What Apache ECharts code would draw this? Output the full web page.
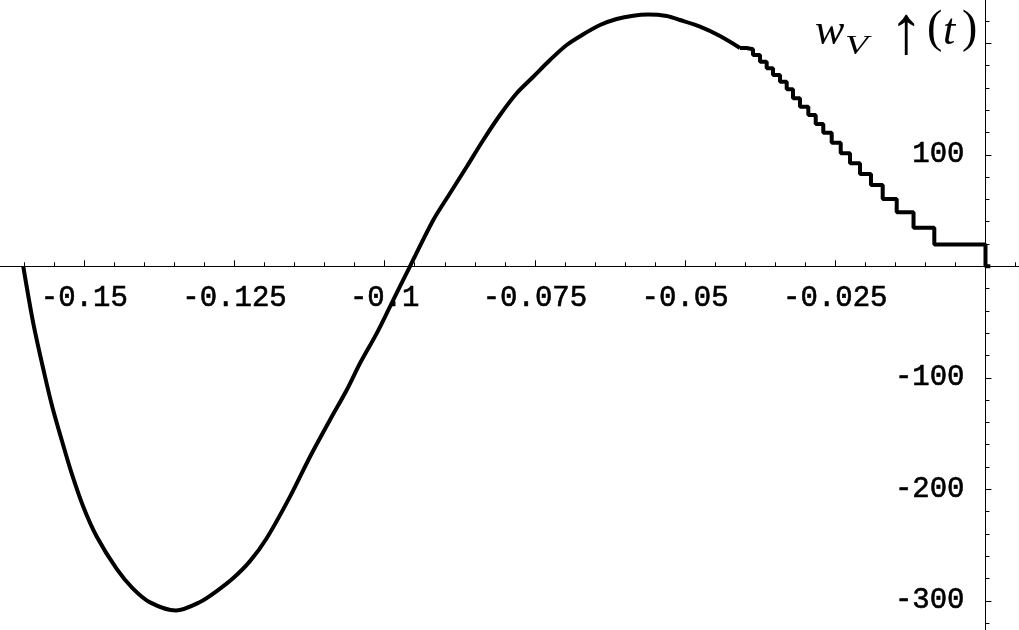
<!DOCTYPE html>
<html>
<head>
<meta charset="utf-8">
<style>
html,body{margin:0;padding:0;background:#fff;}
#chart{width:1019px;height:630px;}
</style>
<script src="https://cdn.jsdelivr.net/npm/echarts@6/dist/echarts.min.js"></script>
</head>
<body>
<div id="chart"></div>
<script>
// smooth part of the curve: [t, w]
var smoothT = [-0.16016,-0.15849,-0.15666,-0.15533,-0.15376,-0.15210,-0.15017,-0.14794,-0.14461,-0.14198,-0.13906,-0.13474,-0.13074,-0.12796,-0.12520,-0.12242,-0.11964,-0.11576,-0.11243,-0.10911,-0.10632,-0.10411,-0.10133,-0.09912,-0.09579,-0.09191,-0.08913,-0.08635,-0.08359,-0.08081,-0.07803,-0.07527,-0.07249,-0.06971,-0.06694,-0.06416,-0.06139,-0.05862,-0.05618,-0.05306,-0.05085,-0.04752,-0.04419,-0.04086];
var smoothW = [0,-51.1,-96.0,-125.9,-155.8,-185.7,-215.6,-242.3,-271.4,-288.6,-301.4,-308.7,-301.1,-291.3,-279.6,-264.4,-243.9,-206.6,-170.8,-137.8,-110.9,-87.0,-60.1,-36.2,0,41.5,65.5,89.3,113.3,135.7,155.2,170.0,185.0,198.5,208.1,216.4,221.8,224.8,225.8,224.5,220.9,214.9,206.5,195.8];
// staircase part near t = 0: [t, w] (each value holds until the next t)
var stepT = [-0.04086,-0.03975,-0.03870,-0.03753,-0.03642,-0.03537,-0.03420,-0.03309,-0.03204,-0.03088,-0.02949,-0.02826,-0.02700,-0.02560,-0.02410,-0.02255,-0.02089,-0.01906,-0.01711,-0.01478,-0.01198,-0.00852,0,0.0008];
var stepW = [195.8,194.6,189.5,183.5,177.6,171.6,165.6,158.7,150.7,143.1,135.7,127.6,119.8,110.9,101.3,92.4,82.8,72.9,60.4,48.4,34.6,19.6,0,0];
// tick labels that are shown
var xTickLabels = ['-0.15','-0.125','-0.1','-0.075','-0.05','-0.025'];
var yTickLabels = ['100','-100','-200','-300'];

function zip(a,b){var r=[];for(var i=0;i<a.length;i++){r.push([a[i],b[i]]);}return r;}
var chart = echarts.init(document.getElementById('chart'), null, {renderer:'canvas'});
// grid extends past the canvas so that the axes cross at (0,0) where the picture has them
var G = {left:-65.9, top:-68.2, width:1201.6, height:780.5};
var xAxisPix = 266.3, yAxisPix = 985.5;
chart.setOption({
  animation:false,
  backgroundColor:'#fff',
  grid:{left:G.left, top:G.top, width:G.width, height:G.height, outerBoundsMode:'none'},
  xAxis:{
    type:'value', min:-0.175, max:0.025, interval:0.025,
    axisLine:{onZero:true, lineStyle:{color:'#000', width:1}},
    axisTick:{inside:true, length:6, lineStyle:{color:'#000', width:1}},
    minorTick:{show:true, splitNumber:5, length:4, lineStyle:{color:'#000', width:1}},
    splitLine:{show:false},
    axisLabel:{margin:(xAxisPix + 18) - (G.top + G.height), color:'#000', fontSize:29, fontFamily:'Liberation Mono',
      textBorderColor:'#000', textBorderWidth:0.6, formatter:function(v){
      var s = String(Number(Number(v).toFixed(4)));
      return xTickLabels.indexOf(s) >= 0 ? s : '';
    }}
  },
  yAxis:{
    type:'value', min:-400, max:300, interval:100,
    axisLine:{onZero:true, lineStyle:{color:'#000', width:1}},
    axisTick:{inside:true, length:6, lineStyle:{color:'#000', width:1}},
    minorTick:{show:true, splitNumber:5, length:4, lineStyle:{color:'#000', width:1}},
    splitLine:{show:false},
    axisLabel:{margin:G.left - (yAxisPix - 21), color:'#000', fontSize:29, fontFamily:'Liberation Mono',
      textBorderColor:'#000', textBorderWidth:0.6, formatter:function(v){
      var s = String(Math.round(v));
      return yTickLabels.indexOf(s) >= 0 ? s : '';
    }}
  },
  graphic:[
    {type:'text', left:815, top:10, style:{text:'w', font:'italic 44px "Liberation Serif", serif', fill:'#000'}},
    {type:'text', x:845, y:33, scaleX:1.35, style:{text:'V', font:'italic 28px "Liberation Serif", serif', fill:'#000'}},
    {type:'text', left:889, top:1, style:{text:'\u2191', font:'68px "Liberation Serif", serif', fill:'#000'}},
    {type:'text', left:927, top:7, style:{text:'(', font:'46px "Liberation Serif", serif', fill:'#000'}},
    {type:'text', left:943, top:10, style:{text:'t', font:'italic 44px "Liberation Serif", serif', fill:'#000'}},
    {type:'text', left:962, top:7, style:{text:')', font:'46px "Liberation Serif", serif', fill:'#000'}}
  ],
  series:[
    {type:'line', data:zip(smoothT, smoothW), showSymbol:false, smooth:0.3, lineStyle:{color:'#000', width:4}, silent:true},
    {type:'line', data:zip(stepT, stepW), step:'end', showSymbol:false, lineStyle:{color:'#000', width:4}, silent:true}
  ]
});
</script>
</body>
</html>
